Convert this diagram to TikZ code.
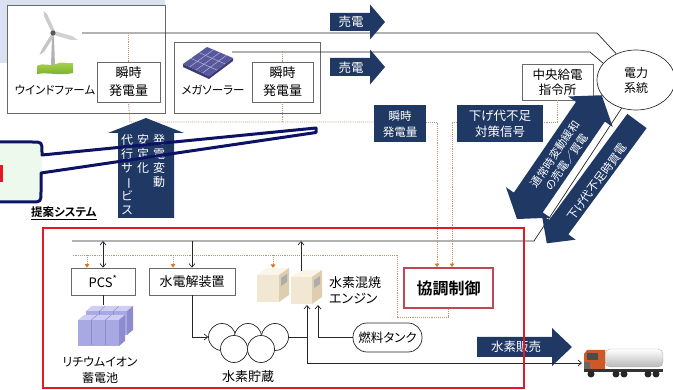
\documentclass[tikz,border=0pt]{standalone}
\usepackage{fontspec}
\setmainfont{Noto Sans CJK JP}[RawFeature=+palt,BoldFont={* Bold}]
\usetikzlibrary{arrows.meta,calc,shapes.geometric}

\definecolor{deepnavy}{RGB}{31,56,100}
\definecolor{calloutblue}{RGB}{12,18,100}
\definecolor{calloutfill}{RGB}{238,249,238}
\definecolor{skyback}{RGB}{218,226,242}
\definecolor{sysred}{RGB}{226,24,36}
\definecolor{ctrlred}{RGB}{190,72,84}
\definecolor{sigdot}{RGB}{188,150,110}
\definecolor{sigarrow}{RGB}{214,122,44}
\definecolor{boxgray}{RGB}{105,105,105}
\definecolor{grasstop}{RGB}{172,214,82}
\definecolor{grassbot}{RGB}{118,172,40}
\definecolor{panel}{RGB}{88,88,158}
\definecolor{panelside}{RGB}{60,60,115}
\definecolor{battfront}{RGB}{168,168,226}
\definecolor{batttop}{RGB}{206,206,244}
\definecolor{battside}{RGB}{140,140,206}
\definecolor{engfront}{RGB}{242,231,210}
\definecolor{engtop}{RGB}{251,245,233}
\definecolor{engside}{RGB}{222,206,176}
\definecolor{cab}{RGB}{206,88,40}

% fat arrow: tail point, direction, length, half shaft, half head, head length
\newcommand\fatarrow[6]{%
  \fill[deepnavy,shift={#1},rotate=#2]
    (0pt,{-#4*1pt}) -- ({(#3-#6)*1pt},{-#4*1pt}) -- ({(#3-#6)*1pt},{-#5*1pt})
    -- ({#3*1pt},0pt) -- ({(#3-#6)*1pt},{#5*1pt}) -- ({(#3-#6)*1pt},{#4*1pt})
    -- (0pt,{#4*1pt}) -- cycle;}
% fat double arrow: one tip, direction, length, half shaft, half head, head length
\newcommand\fatdarrow[6]{%
  \fill[deepnavy,shift={#1},rotate=#2]
    (0pt,0pt) -- ({#6*1pt},{#5*1pt}) -- ({#6*1pt},{#4*1pt})
    -- ({(#3-#6)*1pt},{#4*1pt}) -- ({(#3-#6)*1pt},{#5*1pt}) -- ({#3*1pt},0pt)
    -- ({(#3-#6)*1pt},{-#5*1pt}) -- ({(#3-#6)*1pt},{-#4*1pt})
    -- ({#6*1pt},{-#4*1pt}) -- ({#6*1pt},{-#5*1pt}) -- cycle;}
% box in oblique view: x, y (front top left), w, h, dx, dy, front, top, side
\newcommand\prism[9]{%
  \fill[#7] (#1,#2) rectangle ({#1+#3},{#2+#4});
  \fill[#8] (#1,#2) -- ({#1+#5},{#2-#6}) -- ({#1+#3+#5},{#2-#6}) -- ({#1+#3},#2) -- cycle;
  \fill[#9] ({#1+#3},#2) -- ({#1+#3+#5},{#2-#6}) -- ({#1+#3+#5},{#2+#4-#6}) -- ({#1+#3},{#2+#4}) -- cycle;}

\begin{document}
\begin{tikzpicture}[x=1pt,y=-1pt,
  wbox/.style={draw=boxgray,line width=0.6pt,fill=white,align=center,inner sep=0pt},
  nbox/.style={fill=deepnavy,text=white,align=center,inner sep=0pt},
  lbl/.style={inner sep=0pt,align=center},
  wlbl/.style={inner sep=0pt,align=center,text=white},
  wire/.style={draw=black!85,line width=0.7pt},
  sig/.style={draw=sigdot,line width=0.9pt,dash pattern=on 0.9pt off 1pt},
  sigarr/.style={sig,-{Triangle[length=3.5pt,width=4.5pt,color=sigarrow]}},
  tip/.style={-{Straight Barb[length=3.5pt,width=6pt]}},
  dtip/.style={{Straight Barb[length=3.5pt,width=6pt]}-{Straight Barb[length=3.5pt,width=6pt]}},
  vtext/.style={inner sep=0pt,align=center,text=white,font=\fontsize{12}{14}\selectfont}]
\useasboundingbox (0,0) rectangle (673,390);
\clip (0,0) rectangle (673,390);

% ---------- generation side ----------
\fill[skyback] (0,0) rectangle (165,63);
\node[draw=boxgray,line width=0.6pt,fill=white,minimum width=158pt,minimum height=108pt,inner sep=0pt] (windbox) at (86,59) {};
\node[draw=boxgray,line width=0.6pt,fill=white,minimum width=146pt,minimum height=71pt,inner sep=0pt] (solarbox) at (247,77.5) {};

% wind turbine
\shade[top color=grasstop,bottom color=grassbot]
  (37,66) .. controls (44,62) and (50,67) .. (56,64) .. controls (62,61) and (68,64) .. (73,63)
  -- (73,73) .. controls (60,76) and (48,72) .. (37,74) -- cycle;
\fill[gray!60] (52.2,33) -- (53.8,33) -- (55,65) -- (51,65) -- cycle;
\fill[gray!40] (51.5,32) -- (44,16) -- (43.5,11) -- (47,14) -- (55,31) -- cycle;
\fill[gray!45] (51.5,34) -- (42,49) -- (39.5,55) -- (44,52) -- (54.5,35.5) -- cycle;
\fill[gray!35] (54,31) -- (72,36) -- (78,40) -- (71,40) -- (54,35) -- cycle;
\fill[gray!70!black] (53,33) circle (2.6pt);

% solar array
\coordinate (pa) at (183,64);
\coordinate (pb) at (207,47);
\coordinate (pc) at (233,58);
\coordinate (pd) at (209,76);
\fill[panelside] (pa) -- (pd) -- (pc) -- ($(pc)+(0,3)$) -- ($(pd)+(0,3)$) -- ($(pa)+(0,3)$) -- cycle;
\fill[panel] (pa) -- (pb) -- (pc) -- (pd) -- cycle;
\foreach \t in {0.25,0.5,0.75}
  \draw[white!55!panel,line width=0.5pt] ($(pa)!\t!(pd)$) -- ($(pb)!\t!(pc)$);
\foreach \t in {0.33,0.67}
  \draw[white!55!panel,line width=0.5pt] ($(pa)!\t!(pb)$) -- ($(pd)!\t!(pc)$);

\node[lbl,font=\fontsize{11.5}{14}\selectfont] (windname) at (55,90) {ウインドファーム};
\node[lbl,font=\fontsize{11.5}{14}\selectfont] (solarname) at (213,90) {メガソーラー};
\node[wbox,minimum width=63pt,minimum height=40pt,font=\fontsize{13}{18}\selectfont] (wmeas) at (128.5,82) {瞬時\\発電量};
\node[wbox,minimum width=61pt,minimum height=40pt,font=\fontsize{13}{18}\selectfont] (smeas) at (282.5,82) {瞬時\\発電量};

% ---------- grid side ----------
\node[wbox,minimum width=71pt,minimum height=36pt,font=\fontsize{12.5}{15}\selectfont] (disp) at (557.5,82) {中央給電\\指令所};
\node[ellipse,draw=black!80,line width=0.7pt,fill=white,minimum width=78pt,minimum height=60pt,inner sep=0pt,align=center,font=\fontsize{12}{15}\selectfont] (sys) at (636,80) {電力\\系統};

\node[nbox,minimum width=52pt,minimum height=37pt,font=\fontsize{11.5}{16}\selectfont] (nmeas) at (400,124) {瞬時\\発電量};
\node[nbox,minimum width=86pt,minimum height=37pt,font=\fontsize{12.5}{16}\selectfont] (nsig) at (500,124) {下げ代不足\\対策信号};

% power lines to the grid
\coordinate (windout) at (82,33);
\coordinate (windbend) at (597,33);
\draw[wire] (windout) -- (windbend) -- (sys.127);
\coordinate (solarout) at (232,52);
\coordinate (solarbend) at (590,52);
\draw[wire] (solarout) -- (solarbend) -- (sys.153);

% sales arrows
\fatarrow{(330,22)}{0}{55}{9}{17.5}{15}
\node[wlbl,font=\fontsize{12.5}{14}\selectfont] (sale1) at (351,22) {売電};
\fatarrow{(330,67)}{0}{55}{9}{17.5}{15}
\node[wlbl,font=\fontsize{12.5}{14}\selectfont] (sale2) at (351,68) {売電};

% measurement signals
\coordinate (j1) at (130,122);
\coordinate (c1) at (437,122);
\coordinate (c2) at (452,122);
\coordinate (c3) at (557,122);
\draw[sig] (wmeas.north |- windout) -- (wmeas.north);
\draw[sig] (smeas.north |- solarout) -- (smeas.north);
\draw[sig] (wmeas.south) -- (j1) -- (nmeas.west |- j1);
\draw[sig] (smeas.south) -- (smeas.south |- j1);
\draw[sig] (disp.south -| c3) -- (c3) -- (nsig.east |- c3);

% ---------- proposed system ----------
\coordinate (busleft) at (72,241);
\coordinate (buscorner) at (534,241);
\draw[wire] (busleft) -- (buscorner) -- (sys.243);

\node[draw=ctrlred,line width=1.8pt,fill=white,minimum width=89pt,minimum height=40pt,inner sep=0pt,font=\bfseries\fontsize{16}{18}\selectfont] (ctrl) at (448.5,288) {協調制御};
\draw[sigarr] (nmeas.east |- c1) -- (c1) -- (c1 |- ctrl.north);
\draw[sigarr] (nsig.west |- c2) -- (c2) -- (c2 |- ctrl.north);

% control commands
\coordinate (c4) at (448,317);
\coordinate (c5) at (397,317);
\coordinate (c6) at (397,255);
\coordinate (c7) at (72,255);
\draw[sig] (ctrl.south -| c4) -- (c4) -- (c5) -- (c6) -- (c7);

\node[wbox,minimum width=64pt,minimum height=27pt,font=\fontsize{13}{15}\selectfont] (pcs) at (103,281.5) {PCS\textsuperscript{*}};
\node[wbox,minimum width=86pt,minimum height=27pt,font=\fontsize{13}{15}\selectfont] (elec) at (192,281.5) {水電解装置};

\coordinate (d1) at (87,255);
\coordinate (d2) at (173,255);
\coordinate (d3) at (273,255);
\coordinate (engsig) at (273,268);
\draw[sigarr] (d1) -- (d1 |- pcs.north);
\draw[sigarr] (d2) -- (d2 |- elec.north);
\draw[sigarr] (d3) -- (engsig);

% battery
\prism{86}{311}{13}{24}{6}{5}{battfront}{batttop}{battside}
\prism{100}{311}{13}{24}{6}{5}{battfront}{batttop}{battside}
\prism{114}{311}{13}{24}{6}{5}{battfront}{batttop}{battside}
\prism{78}{320}{13}{26}{6}{5}{battfront}{batttop}{battside}
\prism{92}{320}{13}{26}{6}{5}{battfront}{batttop}{battside}
\prism{106}{320}{13}{26}{6}{5}{battfront}{batttop}{battside}
\coordinate (battop) at (103,305);
\node[lbl,font=\fontsize{12}{16}\selectfont] (battname) at (100,370) {リチウムイオン\\蓄電池};

\draw[wire,dtip] (pcs.north |- busleft) -- (pcs.north);
\draw[wire] (pcs.south) -- (battop);
\draw[wire,tip] (elec.north |- busleft) -- (elec.north);

% hydrogen storage
\foreach \n/\x in {h1/222,h2/248,h3/275}
  \node[circle,draw=black!85,line width=0.7pt,fill=white,minimum size=27pt,inner sep=0pt] (\n) at (\x,337) {};
\foreach \n/\x in {h4/234,h5/261}
  \node[circle,draw=black!85,line width=0.7pt,fill=white,minimum size=27pt,inner sep=0pt] (\n) at (\x,349) {};
\node[lbl,font=\fontsize{13}{15}\selectfont] (h2name) at (248,377) {水素貯蔵};
\draw[wire,tip] (elec.south) -- (elec.south |- h1.west) -- (h1.west);

% engine
\prism{257}{275}{22}{27}{10}{7}{engfront}{engtop}{engside}
\fill[gray!65] (281,278) -- (287,274) -- (287,282) -- (281,286) -- cycle;
\prism{291}{277}{21}{27}{10}{7}{engfront}{engtop}{engside}
\fill[gray!65] (314,280) -- (320,276) -- (320,284) -- (314,288) -- cycle;
\node[lbl,anchor=west,align=left,font=\fontsize{13}{16}\selectfont] (engname) at (329,290) {水素混焼\\エンジン};
\coordinate (engout) at (301,271);
\draw[wire,tip] (engout) -- (engout |- busleft);

\node[draw=black!85,line width=0.7pt,fill=white,rounded corners=14pt,minimum width=69pt,minimum height=29pt,inner sep=0pt,font=\fontsize{12.5}{14}\selectfont] (fuel) at (387.5,337.5) {燃料タンク};

\coordinate (m1) at (307,337);
\coordinate (m2) at (307,363);
\coordinate (engin1) at (307,305);
\coordinate (engin2) at (318,305);
\coordinate (truckin) at (582,363);
\draw[wire] (h3.east) -- (m1);
\draw[wire,tip] (m2) -- (engin1);
\draw[wire,tip] (fuel.west -| engin2) -- (engin2);
\draw[wire] (fuel.west) -- (fuel.west -| engin2);

% hydrogen sales
\fatarrow{(477,347)}{0}{95}{10}{19}{20}
\node[wlbl,font=\fontsize{12.5}{14}\selectfont] (h2sale) at (516,347) {水素販売};
\draw[wire,tip] (m2) -- (truckin);

% tanker truck
\shade[top color=white,bottom color=gray!55,rounded corners=5pt] (605,349) rectangle (663,367);
\draw[gray!60,line width=0.4pt,rounded corners=5pt] (605,349) rectangle (663,367);
\fill[cab] (584,354) -- (587,350) -- (605,350) -- (605,371) -- (584,371) -- cycle;
\fill[black!70] (587,353) rectangle (598,360);
\fill[black!60] (584,362) rectangle (590,369);
\fill[black!80] (584,369) rectangle (663,372);
\foreach \x in {591,616,624,648,656}
  \fill[black!85] (\x,374) circle (3.5pt);

% exchange with the grid
\fatdarrow{(517,219)}{55.6}{150}{17.5}{27}{20}
\node[wlbl,rotate=55.6,font=\fontsize{11}{14}\selectfont] (exch) at (561,158) {通常時変動緩和\\の売電／買電};
\fatarrow{(637,121)}{233.6}{152}{12}{21}{20}
\node[wlbl,rotate=53.6,font=\fontsize{11.5}{13}\selectfont] (shortbuy) at (597,182) {下げ代不足時買電};

% service arrow
\fatarrow{(146,218)}{90}{100}{28}{38}{15}
\node[vtext,anchor=north] (vcol1) at (159,134) {発\\電\\変\\動};
\node[vtext,anchor=north] (vcol2) at (143,134) {安\\定\\化};
\node[vtext,anchor=north] (vcol3) at (127,134) {代\\行\\サ\\\rotatebox[origin=c]{-90}{ー}\\ビ\\ス};

\node[lbl,anchor=west,font=\bfseries\fontsize{11.5}{13}\selectfont] (systitle) at (31,213) {\underline{提案システム}};

% proposed-system frame
\node[draw=sysred,line width=2.6pt,minimum width=481pt,minimum height=160pt,inner sep=0pt] (system) at (283.5,308) {};

% callout bubble
\fill[calloutfill] (-30,142) -- (32,142) .. controls (42,142) .. (42,152) -- (41,192) .. controls (41,202) .. (31,202) -- (-30,202) -- cycle;
\fill[sysred] (0,165) rectangle (2.5,182);
\draw[calloutblue,line width=3pt,line join=round,line cap=round]
  (-30,142) -- (32,142) .. controls (42,142) .. (42,152) -- (42,155) -- (316,128)
  -- (316,132.5) -- (41,173) -- (41,192) .. controls (41,202) .. (31,202) -- (-30,202);
\end{tikzpicture}
\end{document}
